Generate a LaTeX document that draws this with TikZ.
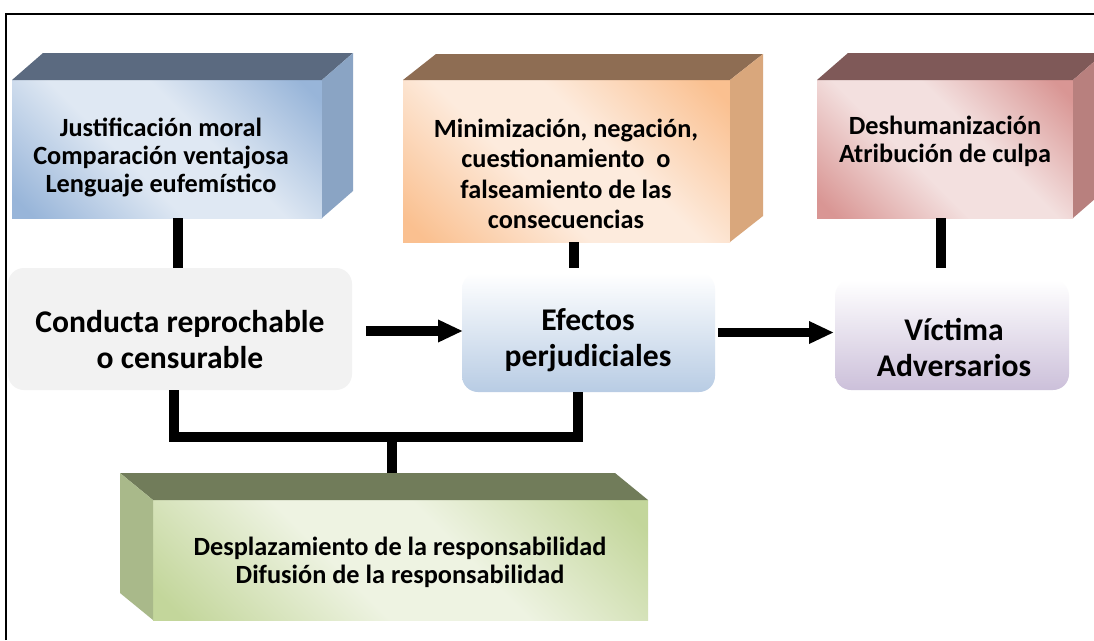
\documentclass[tikz,border=0pt]{standalone}
\usepackage{fontspec}
\setmainfont{Carlito}
\usetikzlibrary{calc,arrows.meta}
\definecolor{bluelight}{HTML}{DFE8F3}
\definecolor{bluemid}{HTML}{98B5D9}
\definecolor{bluetop}{HTML}{5B6A80}
\definecolor{blueside}{HTML}{8AA4C4}
\definecolor{orlight}{HTML}{FDEBDD}
\definecolor{ormid}{HTML}{FAC090}
\definecolor{ortop}{HTML}{8E6D53}
\definecolor{orside}{HTML}{D9A77C}
\definecolor{redlight}{HTML}{F3E0DF}
\definecolor{redmid}{HTML}{D99694}
\definecolor{redtop}{HTML}{7F5958}
\definecolor{redside}{HTML}{B8807E}
\definecolor{grlight}{HTML}{EEF3E2}
\definecolor{grmid}{HTML}{C3D69B}
\definecolor{grtop}{HTML}{717C5A}
\definecolor{grside}{HTML}{A9B98A}
\definecolor{condfill}{HTML}{F2F2F2}
\definecolor{effbot}{HTML}{B8CCE4}
\definecolor{vicbot}{HTML}{CCC0DA}
\pgfdeclareverticalshading{blueshade}{100bp}{color(0bp)=(bluemid); color(18bp)=(bluemid); color(42bp)=(bluelight); color(58bp)=(bluelight); color(82bp)=(bluemid); color(100bp)=(bluemid)}
\pgfdeclareverticalshading{orshade}{100bp}{color(0bp)=(ormid); color(18bp)=(ormid); color(42bp)=(orlight); color(58bp)=(orlight); color(82bp)=(ormid); color(100bp)=(ormid)}
\pgfdeclareverticalshading{redshade}{100bp}{color(0bp)=(redmid); color(18bp)=(redmid); color(42bp)=(redlight); color(58bp)=(redlight); color(82bp)=(redmid); color(100bp)=(redmid)}
\pgfdeclareverticalshading{grshade}{100bp}{color(0bp)=(grmid); color(18bp)=(grmid); color(42bp)=(grlight); color(58bp)=(grlight); color(82bp)=(grmid); color(100bp)=(grmid)}
\begin{document}
\begin{tikzpicture}[x=1pt,y=-1pt,
  face/.style={rectangle,inner sep=0pt,outer sep=0pt},
  roundbox/.style={rectangle,rounded corners=16pt,inner sep=0pt,outer sep=0pt},
  conn/.style={line width=10pt,draw=black},
  arr/.style={line width=9.5pt,draw=black,-{Triangle[length=25pt,width=21pt]}},
  small/.style={font=\fontsize{26.3}{28}\selectfont\bfseries,align=center,inner sep=0pt},
  big/.style={font=\fontsize{31.6}{36}\selectfont\bfseries,align=center,inner sep=0pt}
]
\useasboundingbox (0,0) rectangle (1094,640);
\clip (0,0) rectangle (1094,640);
\fill[white] (0,0) rectangle (1094,640);

% frame
\draw[line width=1.8pt] (6,640) -- (6,14) -- (1094,14);

% box 1 (blue)
\node[face,shading=blueshade,shading angle=-45,minimum width=310pt,minimum height=138pt] (b1) at (167,149) {};
\fill[bluetop] (b1.north west) -- ++(31,-27) -- ++(310,0) -- (b1.north east) -- cycle;
\fill[blueside] (b1.north east) -- ++(31,-27) -- ++(0,138) -- (b1.south east) -- cycle;
\node[small] (t1) at (161,157) {Justificación moral\\Comparación ventajosa\\Lenguaje eufemístico};

% box 2 (orange)
\node[face,shading=orshade,shading angle=-45,minimum width=327pt,minimum height=162pt] (b2) at (566.5,161) {};
\fill[ortop] (b2.north west) -- ++(33,-26) -- ++(327,0) -- (b2.north east) -- cycle;
\fill[orside] (b2.north east) -- ++(33,-26) -- ++(0,162) -- (b2.south east) -- cycle;
\node[small,font=\fontsize{26.3}{30.5}\selectfont\bfseries] (t2) at (566,174) {Minimización, negación,\\cuestionamiento\ \ o\\falseamiento de las\\consecuencias};

% box 3 (red)
\node[face,shading=redshade,shading angle=-45,minimum width=256pt,minimum height=138pt] (b3) at (945,149) {};
\fill[redtop] (b3.north west) -- ++(31,-27) -- ++(256,0) -- (b3.north east) -- cycle;
\fill[redside] (b3.north east) -- ++(31,-27) -- ++(0,138) -- (b3.south east) -- cycle;
\node[small] (t3) at (945,141) {Deshumanización\\Atribución de culpa};

% green box
\node[face,shading=grshade,shading angle=-45,minimum width=495pt,minimum height=120pt] (g) at (400.5,560) {};
\fill[grtop] (g.north west) -- ++(-33,-27) -- ++(495,0) -- (g.north east) -- cycle;
\fill[grside] (g.north west) -- ++(-33,-27) -- ++(0,120) -- (g.south west) -- cycle;
\node[small] (t7) at (400,562) {Desplazamiento de la responsabilidad\\Difusión de la responsabilidad};

% middle row
\node[roundbox,fill=condfill,minimum width=344pt,minimum height=122pt] (cond) at (180,329) {};
\node[big] (t4) at (180,340) {Conducta reprochable\\o censurable};
\node[roundbox,top color=white,bottom color=effbot,minimum width=253pt,minimum height=119pt] (eff) at (588.5,332.5) {};
\node[big] (t5) at (588,340) {Efectos\\perjudiciales};
\node[roundbox,top color=white,bottom color=vicbot,minimum width=234pt,minimum height=110pt] (vic) at (952,335) {};
\node[big] (t6) at (954,347) {Víctima\\Adversarios};

% vertical connectors
\draw[conn] ($(b1.south)+(11,0)$) -- ($(b1.south |- cond.north)+(11,0)$);
\draw[conn] ($(b2.south)+(7.5,0)$) -- ($(b2.south |- eff.north)+(7.5,-5)$);
\draw[conn] ($(b3.south)+(-4,0)$) -- ($(b3.south |- vic.north)+(-4,-12)$);

% bracket
\draw[conn] ($(cond.south)+(-6,0)$) -- ($(cond.south)+(-6,47)$) -| ($(eff.south)+(-10.5,0)$);
\draw[conn] ($(g.north)+(-8.5,-27)$) -- ($(g.north)+(-8.5,-63)$);

% arrows
\draw[arr] ($(cond.east)+(14,2)$) -- ($(eff.west)+(1,-1.5)$);
\draw[arr] ($(eff.east)+(3,0)$) -- ($(vic.west)+(-1,-2.5)$);
\end{tikzpicture}
\end{document}
